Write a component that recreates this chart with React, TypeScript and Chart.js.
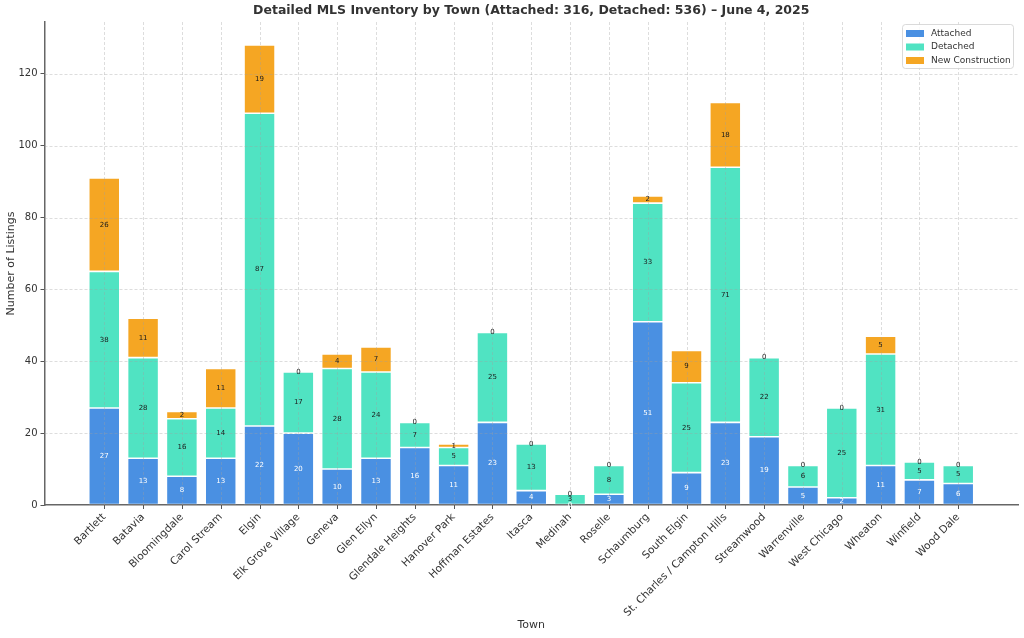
import React, { useEffect, useRef } from "react";
import { Chart, registerables } from "chart.js";

Chart.register(...registerables);

const towns = [
  "Bartlett",
  "Batavia",
  "Bloomingdale",
  "Carol Stream",
  "Elgin",
  "Elk Grove Village",
  "Geneva",
  "Glen Ellyn",
  "Glendale Heights",
  "Hanover Park",
  "Hoffman Estates",
  "Itasca",
  "Medinah",
  "Roselle",
  "Schaumburg",
  "South Elgin",
  "St. Charles / Campton Hills",
  "Streamwood",
  "Warrenville",
  "West Chicago",
  "Wheaton",
  "Winfield",
  "Wood Dale",
];
const attached = [27, 13, 8, 13, 22, 20, 10, 13, 16, 11, 23, 4, 0, 3, 51, 9, 23, 19, 5, 2, 11, 7, 6];
const detached = [38, 28, 16, 14, 87, 17, 28, 24, 7, 5, 25, 13, 3, 8, 33, 25, 71, 22, 6, 25, 31, 5, 5];
const newConstruction = [26, 11, 2, 11, 19, 0, 4, 7, 0, 1, 0, 0, 0, 0, 2, 9, 18, 0, 0, 0, 5, 0, 0];
const yTickValues = [0, 20, 40, 60, 80, 100, 120];

const seriesNames = ["Attached", "Detached", "New Construction"];
const seriesColors = ["#4a90e2", "#50e3c2", "#f5a623"];
const labelColors = ["#ffffff", "#1a1a1a", "#1a1a1a"];
const titleText = "Detailed MLS Inventory by Town (Attached: 316, Detached: 536) \u2013 June 4, 2025";

const FONT = "'DejaVu Sans', sans-serif";

// grid over the bars, x tick marks, value labels, title and legend box
const overlayPlugin = {
  id: "overlay",
  afterDatasetsDraw(chart: any) {
    const { ctx, chartArea: a, scales } = chart;
    const xs = scales.x;
    const ys = scales.y;

    ctx.save();
    ctx.beginPath();
    ctx.rect(a.left, a.top, a.right - a.left, a.bottom - a.top);
    ctx.clip();
    ctx.strokeStyle = "rgba(160,160,160,0.45)";
    ctx.lineWidth = 0.8;
    ctx.setLineDash([3, 2]);
    towns.forEach((_, i) => {
      const x = Math.round(xs.getPixelForValue(i)) + 0.5;
      ctx.beginPath();
      ctx.moveTo(x, a.top);
      ctx.lineTo(x, a.bottom);
      ctx.stroke();
    });
    yTickValues.forEach((v) => {
      if (v === 0) return;
      const y = Math.round(ys.getPixelForValue(v)) + 0.5;
      ctx.beginPath();
      ctx.moveTo(a.left, y);
      ctx.lineTo(a.right, y);
      ctx.stroke();
    });
    ctx.restore();

    // x tick marks
    ctx.save();
    ctx.strokeStyle = "#555555";
    ctx.lineWidth = 1;
    towns.forEach((_, i) => {
      const x = Math.round(xs.getPixelForValue(i)) + 0.5;
      ctx.beginPath();
      ctx.moveTo(x, a.bottom);
      ctx.lineTo(x, a.bottom + 4);
      ctx.stroke();
    });
    ctx.restore();

    ctx.save();
    ctx.font = `7px ${FONT}`;
    ctx.textAlign = "center";
    ctx.textBaseline = "middle";
    chart.data.datasets.forEach((ds: any, di: number) => {
      const meta = chart.getDatasetMeta(di);
      ctx.fillStyle = labelColors[di];
      meta.data.forEach((bar: any, i: number) => {
        const v = ds.data[i].y;
        const cy = (bar.y + bar.base) / 2;
        ctx.fillText(String(v), bar.x, cy);
      });
    });
    ctx.restore();
  },
  afterDraw(chart: any) {
    const { ctx, chartArea: a } = chart;
    ctx.save();
    ctx.font = `bold 12.5px ${FONT}`;
    ctx.fillStyle = "#333333";
    ctx.textAlign = "center";
    ctx.textBaseline = "middle";
    ctx.fillText(titleText, (a.left + a.right) / 2, 11);

    // legend box
    const bx = 902;
    const by = 24;
    const bw = 111;
    const bh = 44;
    ctx.beginPath();
    ctx.roundRect(bx + 0.5, by + 0.5, bw, bh, 3);
    ctx.fillStyle = "rgba(255,255,255,0.85)";
    ctx.fill();
    ctx.strokeStyle = "#d0d0d0";
    ctx.lineWidth = 0.8;
    ctx.stroke();
    ctx.font = `9px ${FONT}`;
    ctx.textAlign = "left";
    ctx.textBaseline = "middle";
    seriesNames.forEach((name, i) => {
      const cy = by + 9.5 + i * 13.5;
      ctx.fillStyle = seriesColors[i];
      ctx.fillRect(bx + 4, cy - 3.5, 18, 7);
      ctx.fillStyle = "#333333";
      ctx.fillText(name, bx + 29, cy);
    });
    ctx.restore();
  },
};

export default function App() {
  const canvasRef = useRef<HTMLCanvasElement | null>(null);

  useEffect(() => {
    document.body.style.margin = "0";
    const canvas = canvasRef.current;
    if (!canvas) return;

    const makeSeries = (values: number[]) => values.map((v, i) => ({ x: i, y: v }));

    const chart = new Chart(canvas, {
      type: "bar",
      data: {
        datasets: [attached, detached, newConstruction].map((values, i) => ({
          label: seriesNames[i],
          data: makeSeries(values),
          backgroundColor: seriesColors[i],
          borderColor: "rgba(255,255,255,0.35)",
          borderWidth: 0.8,
          borderSkipped: false,
          barPercentage: 1,
          categoryPercentage: 0.8,
        })),
      },
      options: {
        responsive: false,
        animation: false,
        devicePixelRatio: 1,
        layout: { padding: { left: 0, right: 6, top: 22, bottom: 0 } },
        plugins: {
          legend: { display: false },
          title: { display: false },
          tooltip: { enabled: false },
        },
        scales: {
          x: {
            type: "linear",
            stacked: true,
            offset: false,
            bounds: "data",
            min: -1.54,
            max: 23.54,
            afterBuildTicks: (scale: any) => {
              scale.ticks = towns.map((_, i) => ({ value: i }));
            },
            afterFit: (scale: any) => {
              scale.height = 133;
              scale.paddingLeft = 0;
              scale.paddingRight = 0;
            },
            ticks: {
              autoSkip: false,
              maxRotation: 45,
              minRotation: 45,
              padding: 6,
              color: "#333333",
              font: { family: FONT, size: 10.5 },
              callback: (v: any) => towns[v] ?? "",
            },
            grid: { display: false, drawTicks: false },
            border: { display: true, color: "#666666", width: 1.5 },
            title: {
              display: true,
              text: "Town",
              color: "#333333",
              font: { family: FONT, size: 11 },
              padding: { top: 0, bottom: 6 },
            },
          },
          y: {
            stacked: true,
            min: 0,
            max: 134.4,
            afterBuildTicks: (scale: any) => {
              scale.ticks = yTickValues.map((v) => ({ value: v }));
            },
            afterFit: (scale: any) => {
              scale.width = 44.5;
            },
            ticks: {
              padding: 3,
              color: "#333333",
              font: { family: FONT, size: 10 },
            },
            grid: {
              display: true,
              drawOnChartArea: false,
              drawTicks: true,
              tickLength: 4,
              tickColor: "#555555",
              tickWidth: 1,
            },
            border: { display: true, color: "#666666", width: 1.5 },
            title: {
              display: true,
              text: "Number of Listings",
              color: "#333333",
              font: { family: FONT, size: 11 },
              padding: { top: 5, bottom: 0 },
            },
          },
        },
      },
      plugins: [overlayPlugin],
    } as any);

    return () => chart.destroy();
  }, []);

  return (
    <canvas
      ref={canvasRef}
      width={1024}
      height={638}
      style={{ display: "block", width: 1024, height: 638 }}
    />
  );
}
